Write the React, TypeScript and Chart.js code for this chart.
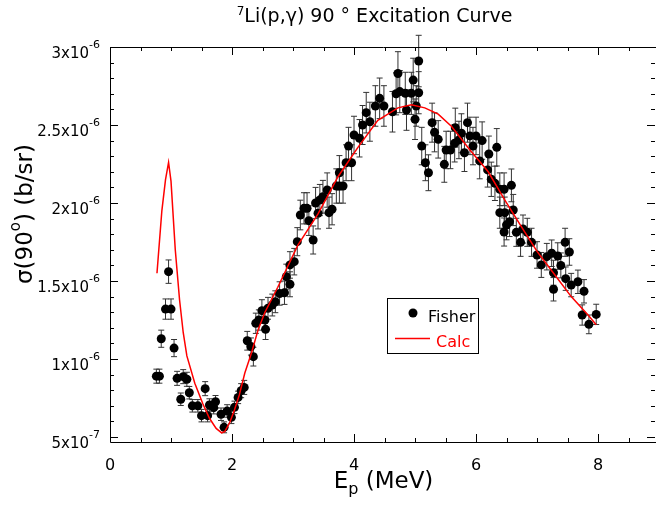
import { useEffect, useRef } from 'react';
import { Chart, registerables } from 'chart.js';

Chart.register(...registerables);

// Fisher data: proton energy (MeV), sigma(90) in units of 1e-6 b/sr, error in 1e-6 b/sr
const FISHER_E = [
  0.76, 0.81, 0.84, 0.91, 0.96, 1.00, 1.05, 1.10, 1.16, 1.20,
  1.26, 1.30, 1.35, 1.44, 1.50, 1.56, 1.60, 1.63, 1.70, 1.73,
  1.82, 1.87, 1.92, 1.99, 2.04, 2.10, 2.15, 2.20, 2.25, 2.31,
  2.35, 2.39, 2.44, 2.49, 2.54, 2.55, 2.59, 2.66, 2.71, 2.78,
  2.86, 2.89, 2.95, 2.95, 3.02, 3.07, 3.12, 3.18, 3.23, 3.26,
  3.33, 3.37, 3.41, 3.44, 3.49, 3.56, 3.59, 3.64, 3.71, 3.76,
  3.82, 3.76, 3.87, 3.96, 3.91, 4.00, 4.09, 4.14, 4.20, 4.26,
  4.35, 4.42, 4.49, 4.63, 4.69, 4.72, 4.75, 4.84, 4.86, 4.94,
  4.97, 5.00, 5.02, 5.06, 5.06, 5.11, 5.17, 5.22, 5.28, 5.32,
  5.38, 5.48, 5.51, 5.58, 5.65, 5.66, 5.72, 5.76, 5.81, 5.86,
  5.90, 5.95, 6.00, 6.06, 6.10, 6.19, 6.21, 6.25, 6.31, 6.34,
  6.39, 6.39, 6.46, 6.47, 6.46, 6.50, 6.55, 6.58, 6.61, 6.66,
  6.73, 6.77, 6.84, 6.91, 7.00, 7.07, 7.16, 7.24, 7.27, 7.27,
  7.34, 7.39, 7.46, 7.47, 7.53, 7.56, 7.67, 7.77, 7.74, 7.85,
  7.97,
];
const FISHER_SIGMA = [
  0.890, 0.890, 1.130, 1.320, 1.560, 1.320, 1.070, 0.876, 0.742, 0.887,
  0.870, 0.784, 0.700, 0.700, 0.637, 0.810, 0.637, 0.705, 0.688, 0.726,
  0.646, 0.562, 0.667, 0.626, 0.690, 0.754, 0.797, 0.818, 1.117, 1.080,
  1.015, 1.229, 1.250, 1.310, 1.250, 1.190, 1.325, 1.346, 1.367, 1.420,
  1.425, 1.528, 1.479, 1.603, 1.624, 1.752, 1.923, 1.966, 1.966, 1.887,
  1.763, 2.000, 1.934, 2.019, 2.040, 2.083, 1.938, 1.960, 2.109, 2.109,
  2.109, 2.194, 2.258, 2.258, 2.365, 2.436, 2.415, 2.500, 2.579, 2.521,
  2.622, 2.671, 2.622, 2.585, 2.700, 2.830, 2.714, 2.703, 2.596, 2.703,
  2.788, 2.537, 2.622, 2.707, 2.910, 2.365, 2.258, 2.194, 2.515, 2.453,
  2.408, 2.248, 2.340, 2.340, 2.383, 2.483, 2.404, 2.447, 2.322, 2.515,
  2.430, 2.365, 2.430, 2.270, 2.400, 2.212, 2.314, 2.152, 2.126, 2.357,
  2.088, 1.938, 2.088, 1.938, 1.814, 1.859, 1.880, 2.113, 1.955, 1.812,
  1.748, 1.833, 1.812, 1.748, 1.667, 1.603, 1.656, 1.678, 1.553, 1.447,
  1.660, 1.600, 1.748, 1.515, 1.686, 1.474, 1.495, 1.434, 1.282, 1.222,
  1.286,
];
const FISHER_ERR = [
  0.045, 0.045, 0.055, 0.065, 0.075, 0.065, 0.055, 0.045, 0.040, 0.045,
  0.045, 0.040, 0.040, 0.040, 0.040, 0.045, 0.040, 0.040, 0.040, 0.040,
  0.040, 0.035, 0.040, 0.040, 0.040, 0.040, 0.045, 0.045, 0.060, 0.055,
  0.060, 0.065, 0.065, 0.070, 0.065, 0.065, 0.070, 0.070, 0.070, 0.075,
  0.075, 0.080, 0.080, 0.085, 0.085, 0.090, 0.095, 0.100, 0.100, 0.095,
  0.090, 0.100, 0.100, 0.100, 0.105, 0.110, 0.100, 0.100, 0.110, 0.110,
  0.110, 0.110, 0.115, 0.115, 0.120, 0.120, 0.120, 0.125, 0.130, 0.125,
  0.130, 0.130, 0.130, 0.130, 0.135, 0.140, 0.135, 0.135, 0.130, 0.135,
  0.140, 0.130, 0.130, 0.135, 0.165, 0.120, 0.115, 0.115, 0.125, 0.125,
  0.120, 0.115, 0.120, 0.120, 0.120, 0.125, 0.120, 0.125, 0.120, 0.125,
  0.120, 0.120, 0.120, 0.115, 0.120, 0.110, 0.115, 0.110, 0.110, 0.120,
  0.105, 0.100, 0.105, 0.100, 0.090, 0.095, 0.095, 0.105, 0.100, 0.090,
  0.090, 0.090, 0.090, 0.090, 0.085, 0.080, 0.085, 0.085, 0.080, 0.075,
  0.085, 0.080, 0.090, 0.075, 0.085, 0.075, 0.075, 0.075, 0.065, 0.060,
  0.065,
];

// Calculated curve
const CALC_E = [
  0.77, 0.85, 0.91, 0.96, 1.00, 1.07, 1.14, 1.20, 1.26, 1.39,
  1.52, 1.63, 1.74, 1.83, 1.88, 1.96, 2.04, 2.12, 2.21, 2.32,
  2.43, 2.54, 2.75, 3.08, 3.41, 3.74, 4.07, 4.39, 4.72, 4.94,
  5.16, 5.38, 5.60, 5.90, 6.20, 6.47, 6.74, 7.00, 7.29, 7.56,
  7.84, 7.97,
];
const CALC_SIGMA = [
  1.550, 1.950, 2.150, 2.260, 2.140, 1.700, 1.380, 1.170, 1.020, 0.845,
  0.715, 0.620, 0.555, 0.527, 0.534, 0.590, 0.673, 0.770, 0.910, 1.040,
  1.190, 1.300, 1.460, 1.730, 1.930, 2.170, 2.360, 2.530, 2.610, 2.630,
  2.610, 2.570, 2.490, 2.340, 2.200, 2.020, 1.850, 1.690, 1.540, 1.400,
  1.280, 1.220,
];

const X_TICKS = [0, 2, 4, 6, 8];
const X_TICK_LABELS = ['0', '2', '4', '6', '8'];
const Y_TICKS = [0.5, 1, 1.5, 2, 2.5, 3];
const Y_TICK_MANTISSA = ['5x10', '1x10', '1.5x10', '2x10', '2.5x10', '3x10'];
const Y_TICK_EXPONENT = ['-7', '-6', '-6', '-6', '-6', '-6'];

const TITLE_SUP = '7';
const TITLE_MAIN = 'Li(p,γ) 90 ° Excitation Curve';
const X_TITLE = ['E', 'p', ' (MeV)'];
const Y_TITLE = ['σ(90', 'o', ') (b/sr)'];
const LEGEND_LABELS = ['Fisher', 'Calc'];

const X_MIN = 0;
const X_MAX = 8.95;
const Y_MIN = 0.468;
const Y_MAX = 3.0;

const FONT = "'DejaVu Sans', Verdana, sans-serif";

function drawParts(ctx: CanvasRenderingContext2D, parts: { t: string; f: string; dy: number }[], cx: number, cy: number, align: 'center' | 'right' = 'center') {
  let total = 0;
  for (const p of parts) {
    ctx.font = p.f;
    total += ctx.measureText(p.t).width;
  }
  let x = align === 'center' ? cx - total / 2 : cx - total;
  for (const p of parts) {
    ctx.font = p.f;
    ctx.fillText(p.t, x, cy + p.dy);
    x += ctx.measureText(p.t).width;
  }
}

const extrasPlugin = {
  id: 'extras',
  beforeDatasetsDraw(chart: any) {
    const ctx: CanvasRenderingContext2D = chart.ctx;
    const xs = chart.scales.x;
    const ys = chart.scales.y;
    ctx.save();
    ctx.strokeStyle = '#333';
    ctx.lineWidth = 1;
    for (let i = 0; i < FISHER_E.length; i++) {
      const px = xs.getPixelForValue(FISHER_E[i]);
      const top = ys.getPixelForValue(FISHER_SIGMA[i] + FISHER_ERR[i]);
      const bot = ys.getPixelForValue(FISHER_SIGMA[i] - FISHER_ERR[i]);
      ctx.beginPath();
      ctx.moveTo(px, top);
      ctx.lineTo(px, bot);
      ctx.moveTo(px - 3, top);
      ctx.lineTo(px + 3, top);
      ctx.moveTo(px - 3, bot);
      ctx.lineTo(px + 3, bot);
      ctx.stroke();
    }
    ctx.restore();
  },
  afterDraw(chart: any) {
    const ctx: CanvasRenderingContext2D = chart.ctx;
    const { left, right, top, bottom } = chart.chartArea;
    const xs = chart.scales.x;
    const ys = chart.scales.y;
    ctx.save();
    // frame
    ctx.strokeStyle = '#000';
    ctx.lineWidth = 1;
    ctx.beginPath();
    ctx.rect(Math.round(left) + 0.5, Math.round(top) + 0.5, Math.round(right - left), Math.round(bottom - top));
    ctx.stroke();
    // inward ticks on all four sides
    ctx.beginPath();
    for (let k = 0; k <= 17; k++) {
      const v = k * 0.5;
      const major = k % 4 === 0;
      const len = major ? 8 : 4;
      const px = Math.round(xs.getPixelForValue(v)) + 0.5;
      ctx.moveTo(px, bottom);
      ctx.lineTo(px, bottom - len);
      ctx.moveTo(px, top);
      ctx.lineTo(px, top + len);
    }
    for (let k = 5; k <= 30; k++) {
      const v = k / 10;
      const major = k % 5 === 0;
      const len = major ? 8 : 4;
      const py = Math.round(ys.getPixelForValue(v)) + 0.5;
      ctx.moveTo(left, py);
      ctx.lineTo(left + len, py);
      ctx.moveTo(right - 1, py);
      ctx.lineTo(right - 1 - len, py);
    }
    ctx.stroke();

    ctx.fillStyle = '#000';
    ctx.textBaseline = 'alphabetic';
    ctx.textAlign = 'left';

    // y tick labels with superscript exponents
    for (let i = 0; i < Y_TICKS.length; i++) {
      const py = ys.getPixelForValue(Y_TICKS[i]);
      drawParts(ctx, [
        { t: Y_TICK_MANTISSA[i], f: `15px ${FONT}`, dy: 0 },
        { t: Y_TICK_EXPONENT[i], f: `11px ${FONT}`, dy: -10 },
      ], 100, py + 10.5, 'right');
    }

    // title
    drawParts(ctx, [
      { t: TITLE_SUP, f: `12px ${FONT}`, dy: -7 },
      { t: TITLE_MAIN, f: `19px ${FONT}`, dy: 0 },
    ], 374.5, 22);

    // x title
    drawParts(ctx, [
      { t: X_TITLE[0], f: `23px ${FONT}`, dy: 0 },
      { t: X_TITLE[1], f: `16px ${FONT}`, dy: 6 },
      { t: X_TITLE[2], f: `23px ${FONT}`, dy: 0 },
    ], 383.5, 488);

    // y title
    ctx.save();
    ctx.translate(32, 214);
    ctx.rotate(-Math.PI / 2);
    drawParts(ctx, [
      { t: Y_TITLE[0], f: `23px ${FONT}`, dy: 0 },
      { t: Y_TITLE[1], f: `15px ${FONT}`, dy: -12 },
      { t: Y_TITLE[2], f: `23px ${FONT}`, dy: 0 },
    ], 0, 0);
    ctx.restore();

    // legend
    ctx.fillStyle = '#fff';
    ctx.fillRect(387, 298, 91, 55);
    ctx.strokeStyle = '#000';
    ctx.lineWidth = 1;
    ctx.strokeRect(387.5, 298.5, 91, 55);
    ctx.fillStyle = '#000';
    ctx.beginPath();
    ctx.arc(413, 313, 4.5, 0, Math.PI * 2);
    ctx.fill();
    ctx.font = `16px ${FONT}`;
    ctx.fillText(LEGEND_LABELS[0], 428, 322);
    ctx.strokeStyle = 'red';
    ctx.lineWidth = 1.5;
    ctx.beginPath();
    ctx.moveTo(395, 338.5);
    ctx.lineTo(430, 338.5);
    ctx.stroke();
    ctx.fillStyle = 'red';
    ctx.fillText(LEGEND_LABELS[1], 436, 347);
    ctx.restore();
  },
};

export default function App() {
  const ref = useRef<HTMLCanvasElement | null>(null);
  useEffect(() => {
    if (!ref.current) return;
    const fisher = FISHER_E.map((e, i) => ({ x: e, y: FISHER_SIGMA[i] }));
    const calc = CALC_E.map((e, i) => ({ x: e, y: CALC_SIGMA[i] }));
    const chart = new Chart(ref.current, {
      type: 'scatter',
      data: {
        datasets: [
          {
            label: LEGEND_LABELS[1],
            data: calc,
            showLine: true,
            borderColor: '#ff0000',
            borderWidth: 1.5,
            pointRadius: 0,
            fill: false,
          },
          {
            label: LEGEND_LABELS[0],
            data: fisher,
            showLine: false,
            pointRadius: 4.5,
            pointBackgroundColor: '#000',
            pointBorderWidth: 0,
            backgroundColor: '#000',
            borderColor: '#000',
          },
        ],
      },
      options: {
        responsive: false,
        animation: false,
        layout: { autoPadding: false, padding: { top: 47, left: 0, right: 0, bottom: 0 } },
        plugins: {
          legend: { display: false },
          tooltip: { enabled: false },
          title: { display: false },
        },
        scales: {
          x: {
            type: 'linear',
            min: X_MIN,
            max: X_MAX,
            grid: { display: false, drawTicks: false },
            border: { display: false },
            afterBuildTicks: (s: any) => {
              s.ticks = X_TICKS.map((v) => ({ value: v }));
            },
            afterFit: (s: any) => {
              s.height = 67;
              s.paddingLeft = 0;
              s.paddingRight = 0;
            },
            ticks: {
              color: '#000',
              font: { family: FONT, size: 16 },
              padding: 14,
              maxRotation: 0,
              callback: (v: any) => {
                const i = X_TICKS.indexOf(Number(v));
                return i >= 0 ? X_TICK_LABELS[i] : '';
              },
            },
          },
          y: {
            type: 'linear',
            min: Y_MIN,
            max: Y_MAX,
            grid: { display: false, drawTicks: false },
            border: { display: false },
            afterBuildTicks: (s: any) => {
              s.ticks = Y_TICKS.map((v) => ({ value: v }));
            },
            afterFit: (s: any) => {
              s.width = 110;
              s.paddingTop = 0;
              s.paddingBottom = 0;
            },
            ticks: { display: false },
          },
        },
      },
      plugins: [extrasPlugin],
    });
    return () => chart.destroy();
  }, []);
  return (
    <div style={{ position: 'fixed', left: 0, top: 0, width: 656, height: 509, background: '#fff' }}>
      <canvas ref={ref} width={656} height={509} style={{ display: 'block' }} />
    </div>
  );
}
